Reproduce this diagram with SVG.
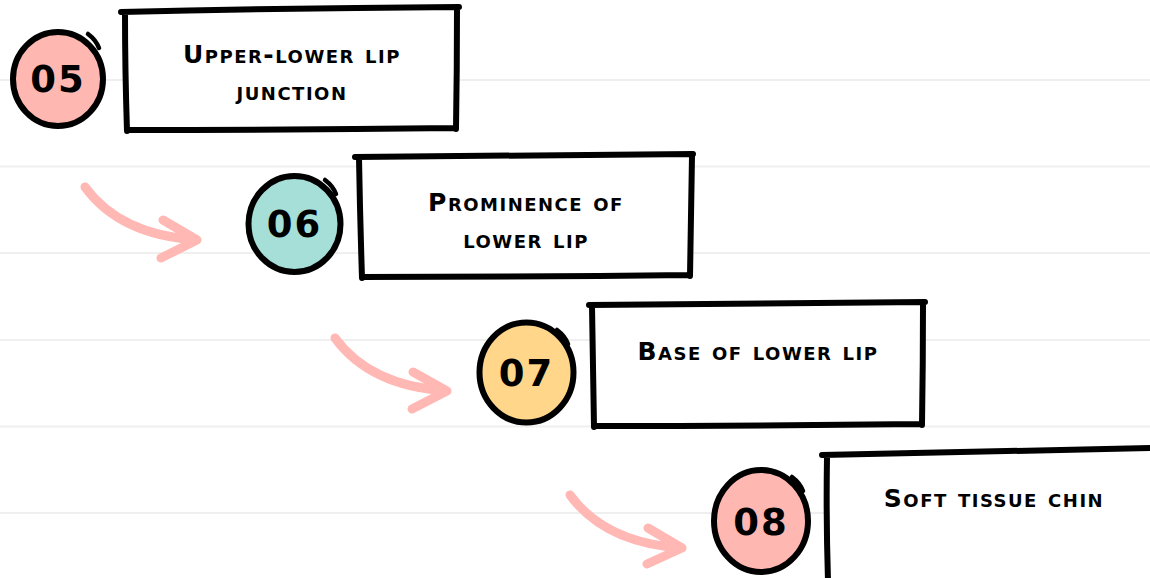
<svg xmlns="http://www.w3.org/2000/svg" width="1150" height="578" viewBox="0 0 1150 578">
<style>
.bg{stroke:#efefef;stroke-width:2;fill:none}
.box{fill:#ffffff;stroke:none}
.edge{fill:none;stroke:#000;stroke-width:6;stroke-linecap:round;stroke-linejoin:round}
.circ{stroke:#000;stroke-width:6}
.tick{fill:none;stroke:#000;stroke-width:4.5;stroke-linecap:round}
.num{font-family:"DejaVu Sans","Liberation Sans",sans-serif;font-weight:bold;font-size:37px;letter-spacing:2px;fill:#000;text-anchor:middle}
.lbl{font-family:"DejaVu Sans","Liberation Sans",sans-serif;font-weight:bold;font-size:25px;font-variant:small-caps;letter-spacing:1.5px;fill:#000;text-anchor:middle}
.arr{fill:none;stroke:#ffb8b3;stroke-width:9;stroke-linecap:round;stroke-linejoin:round}
</style>
<rect width="1150" height="578" fill="#ffffff"/>
<g id="background">
<line class="bg" x1="0" y1="80" x2="1150" y2="80"/>
<line class="bg" x1="0" y1="166.5" x2="1150" y2="166.5"/>
<line class="bg" x1="0" y1="253" x2="1150" y2="253"/>
<line class="bg" x1="0" y1="340" x2="1150" y2="340"/>
<line class="bg" x1="0" y1="426.5" x2="1150" y2="426.5"/>
<line class="bg" x1="0" y1="513" x2="1150" y2="513"/>
</g>
<g id="connectors">
<path class="arr" d="M85,187 Q120,235 197,240 M163,220 L197,240 L161,258"/>
<path class="arr" d="M335,338 Q370,386 447,391 M413,372 L447,391 L412,409"/>
<path class="arr" d="M570,495 Q605,543 682,548 M648,528 L682,548 L647,564"/>
</g>
<g id="node05">
<ellipse class="circ" cx="58" cy="79" rx="45" ry="47" fill="#ffb7b2"/>
<path class="tick" d="M88,34 Q96,40 99,48"/>
<text class="num" x="58" y="92">05</text>
<rect class="box" x="125" y="9" width="332" height="120"/>
<path class="edge" d="M121,12 Q290,8 459,7 M457,9 Q457,70 456,129 M456,128 Q290,130 127,130 M127,131 Q125,70 125,13"/>
<text class="lbl" x="292" y="63">Upper-lower lip</text>
<text class="lbl" x="292" y="100">junction</text>
</g>
<g id="node06">
<ellipse class="circ" cx="294.5" cy="224" rx="46" ry="48" fill="#a6dfd8"/>
<path class="tick" d="M325,180 Q333,186 336,194"/>
<text class="num" x="294.5" y="237">06</text>
<rect class="box" x="359" y="156" width="333" height="120"/>
<path class="edge" d="M355,157 Q525,155 693,154 M692,156 Q691,216 690,276 M690,275 Q525,277 362,277 M362,278 Q360,216 359,158"/>
<text class="lbl" x="526" y="211">Prominence of</text>
<text class="lbl" x="526" y="248">lower lip</text>
</g>
<g id="node07">
<ellipse class="circ" cx="526.5" cy="372.5" rx="47" ry="50" fill="#ffd68a"/>
<path class="tick" d="M557,330 Q565,336 568,344"/>
<text class="num" x="526.5" y="386">07</text>
<rect class="box" x="593" y="304" width="330" height="121"/>
<path class="edge" d="M589,305 Q757,303 925,302 M923,304 Q923,364 922,425 M922,424 Q757,426 594,426 M594,427 Q593,366 592,306"/>
<text class="lbl" x="758" y="360">Base of lower lip</text>
</g>
<g id="node08">
<ellipse class="circ" cx="761" cy="521" rx="47" ry="51" fill="#ffb7b2"/>
<path class="tick" d="M792,477 Q800,483 803,491"/>
<text class="num" x="761" y="535">08</text>
<rect class="box" x="827" y="452" width="330" height="126"/>
<path class="edge" d="M822,455 Q990,451 1152,448 M827,457 Q826,520 828,580"/>
<text class="lbl" x="994" y="507">Soft tissue chin</text>
</g>
</svg>
